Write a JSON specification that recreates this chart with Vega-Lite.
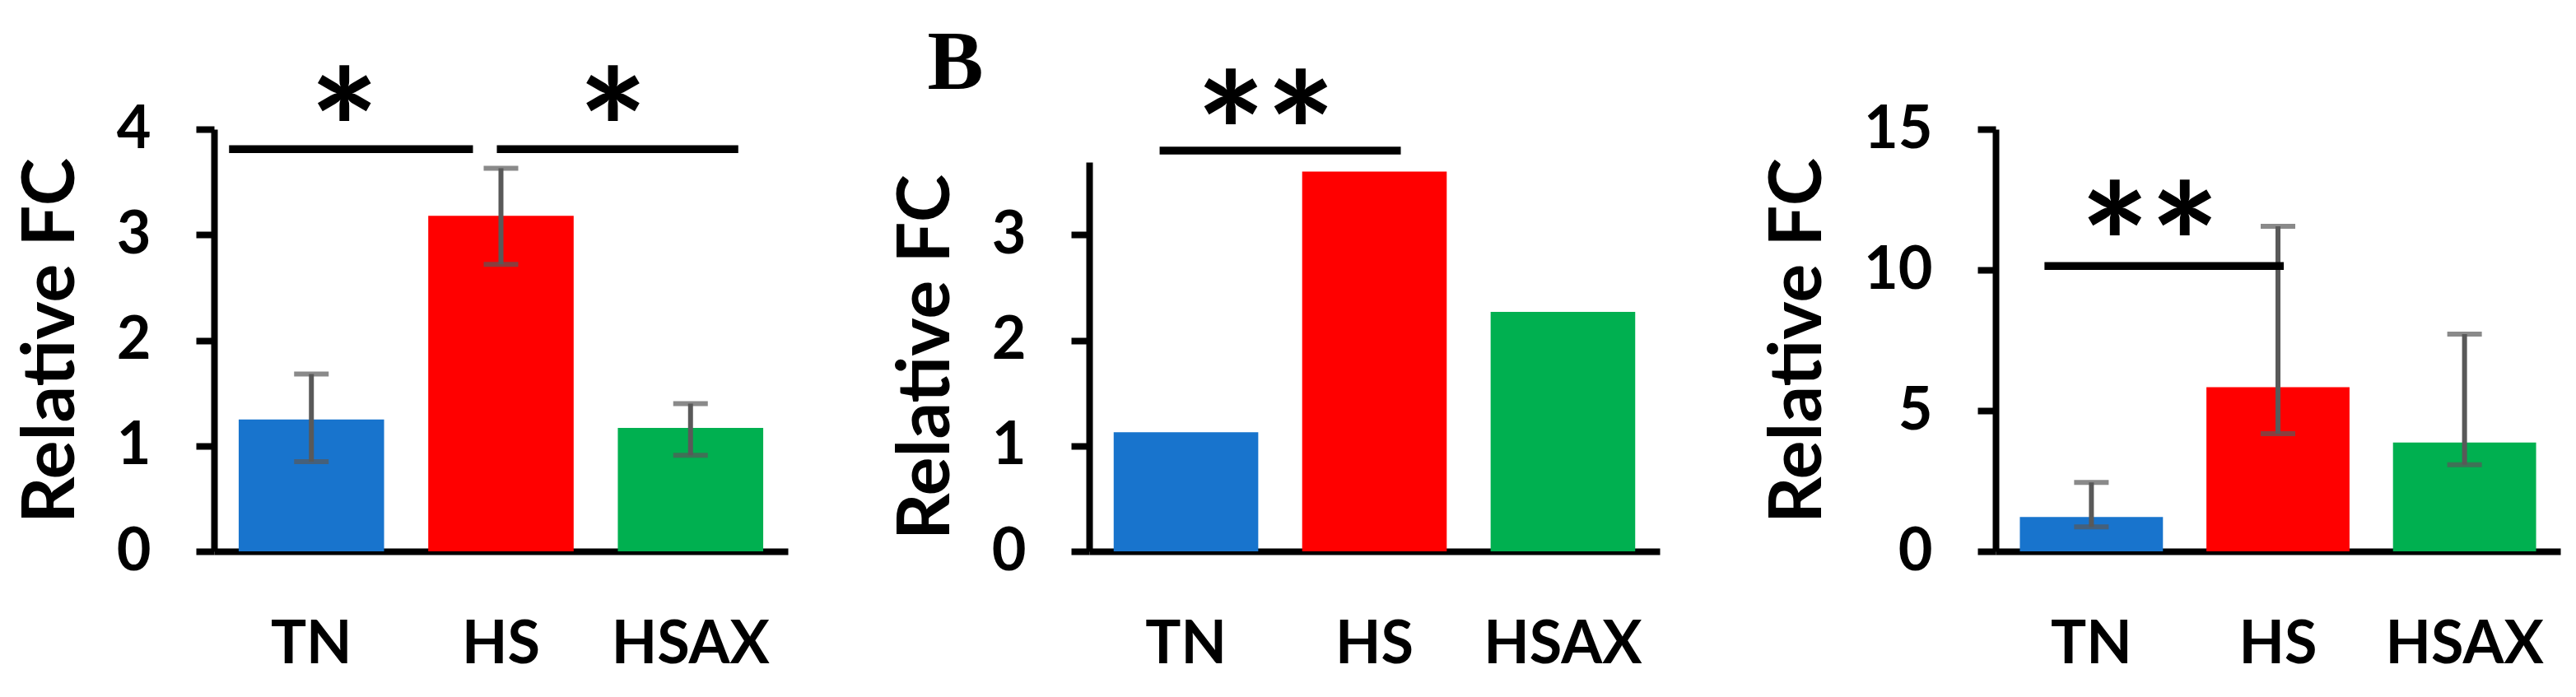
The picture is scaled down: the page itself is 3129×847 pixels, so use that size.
{
  "$schema": "https://vega.github.io/schema/vega-lite/v6.json",
  "autosize": {"type": "pad"},
  "padding": {"left": 19, "top": 25, "right": 5, "bottom": 5},
  "background": "white",
  "spacing": 125,
  "bounds": "full",
  "config": {
    "view": {"stroke": null},
    "font": "Lato",
    "axis": {
      "domainColor": "black", "domainWidth": 8, "tickColor": "black", "tickWidth": 8,
      "labelColor": "black", "titleColor": "black", "labelFont": "Lato", "titleFont": "Lato",
      "labelFontWeight": "bold", "titleFontWeight": "bold", "labelFontSize": 72, "titleFontSize": 88,
      "grid": false, "labelLimit": 0
    },
    "axisX": {"ticks": false, "labelPadding": 78, "labelAngle": 0},
    "axisY": {"tickSize": 22, "labelPadding": 55, "titlePadding": 34, "format": "d"}
  },
  "hconcat": [
    {
      "width": 697, "height": 513,
      "data": {"values": [
        {"group": "TN", "fc": 1.25, "lo": 0.85, "hi": 1.68},
        {"group": "HS", "fc": 3.18, "lo": 2.72, "hi": 3.63},
        {"group": "HSAX", "fc": 1.17, "lo": 0.91, "hi": 1.40}
      ]},
      "encoding": {
        "x": {"field": "group", "type": "nominal", "title": null,
              "scale": {"domain": ["TN", "HS", "HSAX"], "paddingInner": 0.233, "paddingOuter": 0.13}}
      },
      "layer": [
        {"mark": {"type": "bar"},
         "encoding": {
           "y": {"field": "fc", "type": "quantitative", "title": "Relative FC",
                 "scale": {"domain": [0, 4], "nice": false}, "axis": {"values": [0, 1, 2, 3, 4]}},
           "color": {"field": "group", "type": "nominal", "legend": null,
                     "scale": {"domain": ["TN", "HS", "HSAX"], "range": ["#1874CD", "#FF0000", "#00B050"]}}
         }},
        {"mark": {"type": "rule", "color": "#595959", "strokeWidth": 6},
         "encoding": {"y": {"field": "lo", "type": "quantitative", "title": "Relative FC", "scale": {"domain": [0, 4], "nice": false}}, "y2": {"field": "hi"}}},
        {"mark": {"type": "tick", "color": "#595959", "thickness": 6, "size": 42},
         "encoding": {"y": {"field": "lo", "type": "quantitative", "title": "Relative FC", "scale": {"domain": [0, 4], "nice": false}}}},
        {"mark": {"type": "tick", "color": "#595959", "thickness": 6, "size": 42},
         "encoding": {"y": {"field": "hi", "type": "quantitative", "title": "Relative FC", "scale": {"domain": [0, 4], "nice": false}}}},
        {"data": {"values": [{"g1": "TN", "g2": "HS", "y": 3.81}]},
         "mark": {"type": "rule", "color": "black", "strokeWidth": 9.5, "xOffset": -100, "x2Offset": -34},
         "encoding": {
           "x": {"field": "g1", "type": "nominal", "bandPosition": 0.5, "title": null},
           "x2": {"field": "g2", "bandPosition": 0.5},
           "y": {"field": "y", "type": "quantitative", "title": "Relative FC", "scale": {"domain": [0, 4], "nice": false}}
         }},
        {"data": {"values": [{"g1": "HS", "g2": "HSAX", "y": 3.81}]},
         "mark": {"type": "rule", "color": "black", "strokeWidth": 9.5, "xOffset": -5, "x2Offset": 58},
         "encoding": {
           "x": {"field": "g1", "type": "nominal", "bandPosition": 0.5, "title": null},
           "x2": {"field": "g2", "bandPosition": 0.5},
           "y": {"field": "y", "type": "quantitative", "title": "Relative FC", "scale": {"domain": [0, 4], "nice": false}}
         }},
        {"data": {"values": [{"g1": "TN", "y": 4.33, "t": "*"}]},
         "mark": {"type": "text", "font": "Lato", "fontWeight": "bold", "fontSize": 200, "baseline": "middle", "dx": 40, "dy": 56, "color": "black"},
         "encoding": {
           "x": {"field": "g1", "type": "nominal", "title": null},
           "y": {"field": "y", "type": "quantitative", "title": "Relative FC", "scale": {"domain": [0, 4], "nice": false}},
           "text": {"field": "t"}
         }},
        {"data": {"values": [{"g1": "HS", "y": 4.33, "t": "*"}]},
         "mark": {"type": "text", "font": "Lato", "fontWeight": "bold", "fontSize": 200, "baseline": "middle", "dx": 136, "dy": 56, "color": "black"},
         "encoding": {
           "x": {"field": "g1", "type": "nominal", "title": null},
           "y": {"field": "y", "type": "quantitative", "title": "Relative FC", "scale": {"domain": [0, 4], "nice": false}},
           "text": {"field": "t"}
         }}
      ]
    },
    {
      "width": 693, "height": 513,
      "data": {"values": [
        {"group": "TN", "fc": 1.13},
        {"group": "HS", "fc": 3.60},
        {"group": "HSAX", "fc": 2.27}
      ]},
      "encoding": {
        "x": {"field": "group", "type": "nominal", "title": null,
              "scale": {"domain": ["TN", "HS", "HSAX"], "paddingInner": 0.233, "paddingOuter": 0.13}}
      },
      "layer": [
        {"mark": {"type": "bar"},
         "encoding": {
           "y": {"field": "fc", "type": "quantitative", "title": "Relative FC",
                 "scale": {"domain": [0, 3.69], "nice": false, "range": [513, 40]}, "axis": {"values": [0, 1, 2, 3]}},
           "color": {"field": "group", "type": "nominal", "legend": null,
                     "scale": {"domain": ["TN", "HS", "HSAX"], "range": ["#1874CD", "#FF0000", "#00B050"]}}
         }},
        {"data": {"values": [{"g1": "TN", "g2": "HS", "y": 3.80}]},
         "mark": {"type": "rule", "color": "black", "strokeWidth": 9.5, "xOffset": -32, "x2Offset": 32},
         "encoding": {
           "x": {"field": "g1", "type": "nominal", "bandPosition": 0.5, "title": null},
           "x2": {"field": "g2", "bandPosition": 0.5},
           "y": {"field": "y", "type": "quantitative", "title": "Relative FC", "scale": {"domain": [0, 3.69], "nice": false, "range": [513, 40]}}
         }},
        {"data": {"values": [{"g1": "TN", "y": 4.30, "t": "**"}]},
         "mark": {"type": "text", "font": "Lato", "fontWeight": "bold", "fontSize": 200, "baseline": "middle", "dx": 97, "dy": 56, "color": "black"},
         "encoding": {
           "x": {"field": "g1", "type": "nominal", "title": null},
           "y": {"field": "y", "type": "quantitative", "title": "Relative FC", "scale": {"domain": [0, 3.69], "nice": false, "range": [513, 40]}},
           "text": {"field": "t"}
         }},
        {"data": {"values": [{"g1": "TN", "y": 4.385, "t": "B"}]},
         "mark": {"type": "text", "font": "Liberation Serif", "fontWeight": "bold", "fontSize": 102, "align": "left", "baseline": "alphabetic", "dx": -314, "color": "black"},
         "encoding": {
           "x": {"field": "g1", "type": "nominal", "title": null},
           "y": {"field": "y", "type": "quantitative", "title": "Relative FC", "scale": {"domain": [0, 3.69], "nice": false, "range": [513, 40]}},
           "text": {"field": "t"}
         }}
      ]
    },
    {
      "width": 686, "height": 513,
      "data": {"values": [
        {"group": "TN", "fc": 1.22, "lo": 0.87, "hi": 2.45},
        {"group": "HS", "fc": 5.83, "lo": 4.18, "hi": 11.55},
        {"group": "HSAX", "fc": 3.87, "lo": 3.08, "hi": 7.72}
      ]},
      "encoding": {
        "x": {"field": "group", "type": "nominal", "title": null,
              "scale": {"domain": ["TN", "HS", "HSAX"], "paddingInner": 0.233, "paddingOuter": 0.13}}
      },
      "layer": [
        {"mark": {"type": "bar"},
         "encoding": {
           "y": {"field": "fc", "type": "quantitative", "title": "Relative FC",
                 "scale": {"domain": [0, 15], "nice": false}, "axis": {"values": [0, 5, 10, 15]}},
           "color": {"field": "group", "type": "nominal", "legend": null,
                     "scale": {"domain": ["TN", "HS", "HSAX"], "range": ["#1874CD", "#FF0000", "#00B050"]}}
         }},
        {"mark": {"type": "rule", "color": "#595959", "strokeWidth": 6},
         "encoding": {"y": {"field": "lo", "type": "quantitative", "title": "Relative FC", "scale": {"domain": [0, 15], "nice": false}}, "y2": {"field": "hi"}}},
        {"mark": {"type": "tick", "color": "#595959", "thickness": 6, "size": 42},
         "encoding": {"y": {"field": "lo", "type": "quantitative", "title": "Relative FC", "scale": {"domain": [0, 15], "nice": false}}}},
        {"mark": {"type": "tick", "color": "#595959", "thickness": 6, "size": 42},
         "encoding": {"y": {"field": "hi", "type": "quantitative", "title": "Relative FC", "scale": {"domain": [0, 15], "nice": false}}}},
        {"data": {"values": [{"g1": "TN", "g2": "HS", "y": 10.14}]},
         "mark": {"type": "rule", "color": "black", "strokeWidth": 9.5, "xOffset": -57, "x2Offset": 7},
         "encoding": {
           "x": {"field": "g1", "type": "nominal", "bandPosition": 0.5, "title": null},
           "x2": {"field": "g2", "bandPosition": 0.5},
           "y": {"field": "y", "type": "quantitative", "title": "Relative FC", "scale": {"domain": [0, 15], "nice": false}}
         }},
        {"data": {"values": [{"g1": "TN", "y": 12.17, "t": "**"}]},
         "mark": {"type": "text", "font": "Lato", "fontWeight": "bold", "fontSize": 200, "baseline": "middle", "dx": 71, "dy": 56, "color": "black"},
         "encoding": {
           "x": {"field": "g1", "type": "nominal", "title": null},
           "y": {"field": "y", "type": "quantitative", "title": "Relative FC", "scale": {"domain": [0, 15], "nice": false}},
           "text": {"field": "t"}
         }}
      ]
    }
  ]
}
